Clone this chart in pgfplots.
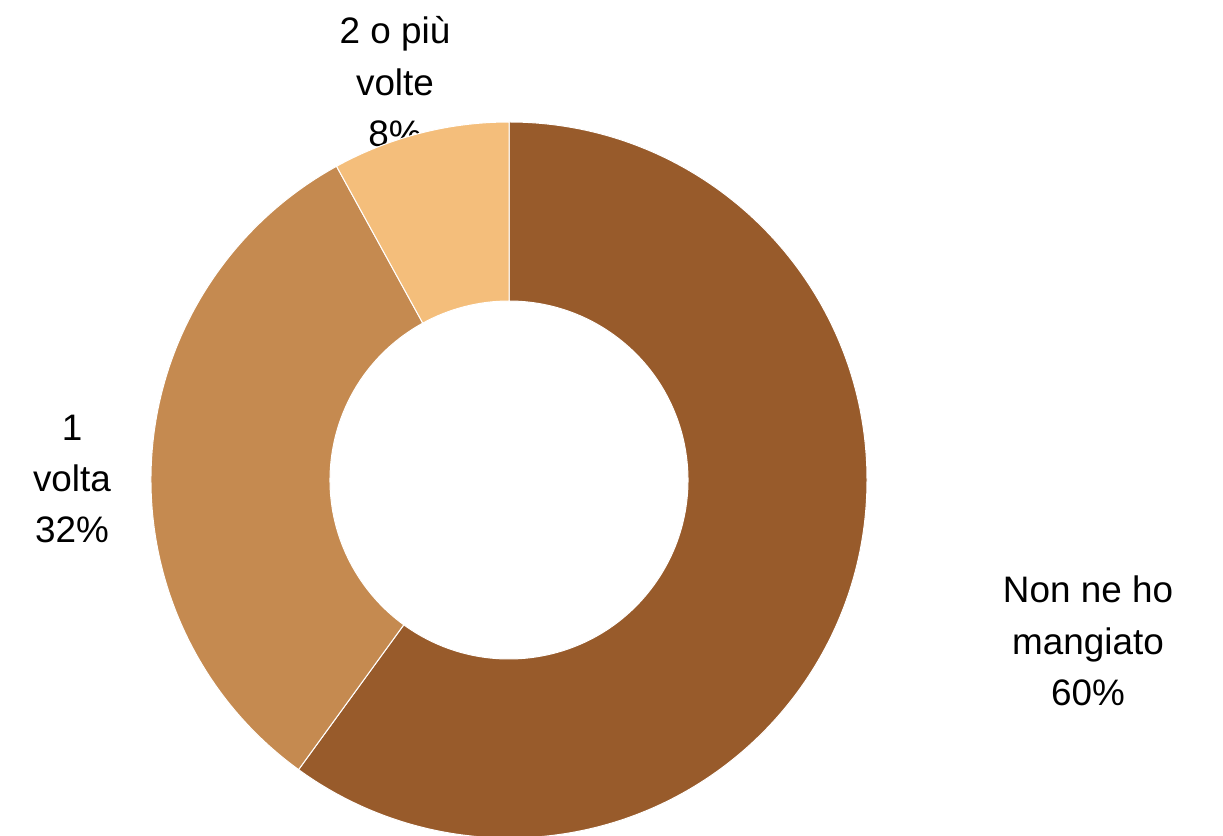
\documentclass[border=0pt]{standalone}
\usepackage{pgfplots}
\pgfplotsset{compat=1.18}
\usepackage{pgfplotstable}
\usepackage{fontspec}
\setmainfont{Liberation Sans}

\definecolor{cNon}{HTML}{985B2B}
\definecolor{cUna}{HTML}{C58A50}
\definecolor{cPiu}{HTML}{F4BE7B}

% share of answers, clockwise from the top
\pgfplotstableread[col sep=comma]{
label,value
Non ne ho mangiato,60
1 volta,32
2 o più volte,8
}\slices

\pgfplotstablegetelem{0}{value}\of\slices \let\vA\pgfplotsretval
\pgfplotstablegetelem{1}{value}\of\slices \let\vB\pgfplotsretval
\pgfplotstablegetelem{2}{value}\of\slices \let\vC\pgfplotsretval
\pgfmathsetmacro\aA{90-3.6*\vA}
\pgfmathsetmacro\aB{\aA-3.6*\vB}
\pgfmathsetmacro\aC{\aB-3.6*\vC}

\tikzset{lbl/.style={font=\fontsize{18.5}{25.8}\selectfont, align=center, inner sep=0pt}}

\begin{document}
\begin{tikzpicture}
\begin{axis}[
    width=611.5bp, height=418bp, scale only axis,
    xmin=0, xmax=1223, ymin=0, ymax=836,
    hide axis,
]
    \coordinate (sw) at (rel axis cs:0,0);
    \coordinate (ne) at (rel axis cs:1,1);
    % labels first, the ring covers them
    \node[lbl] at (axis cs:395,754) {2 o più\\volte\\\vC\%};
    \node[lbl] at (axis cs:72,357) {1\\volta\\\vB\%};
    \node[lbl] at (axis cs:1088,195) {Non ne ho\\mangiato\\\vA\%};

    \filldraw[fill=cNon, draw=white, line width=0.5bp, shift={(axis cs:509,356)}]
        (90:179bp) arc[start angle=90, end angle=\aA, radius=179bp]
        -- (\aA:89.5bp) arc[start angle=\aA, end angle=90, radius=89.5bp] -- cycle;
    \filldraw[fill=cUna, draw=white, line width=0.5bp, shift={(axis cs:509,356)}]
        (\aA:179bp) arc[start angle=\aA, end angle=\aB, radius=179bp]
        -- (\aB:89.5bp) arc[start angle=\aB, end angle=\aA, radius=89.5bp] -- cycle;
    \filldraw[fill=cPiu, draw=white, line width=0.5bp, shift={(axis cs:509,356)}]
        (\aB:179bp) arc[start angle=\aB, end angle=\aC, radius=179bp]
        -- (\aC:89.5bp) arc[start angle=\aC, end angle=\aB, radius=89.5bp] -- cycle;
\end{axis}
\pgfresetboundingbox
\path (sw) rectangle (ne);
\end{tikzpicture}
\end{document}
